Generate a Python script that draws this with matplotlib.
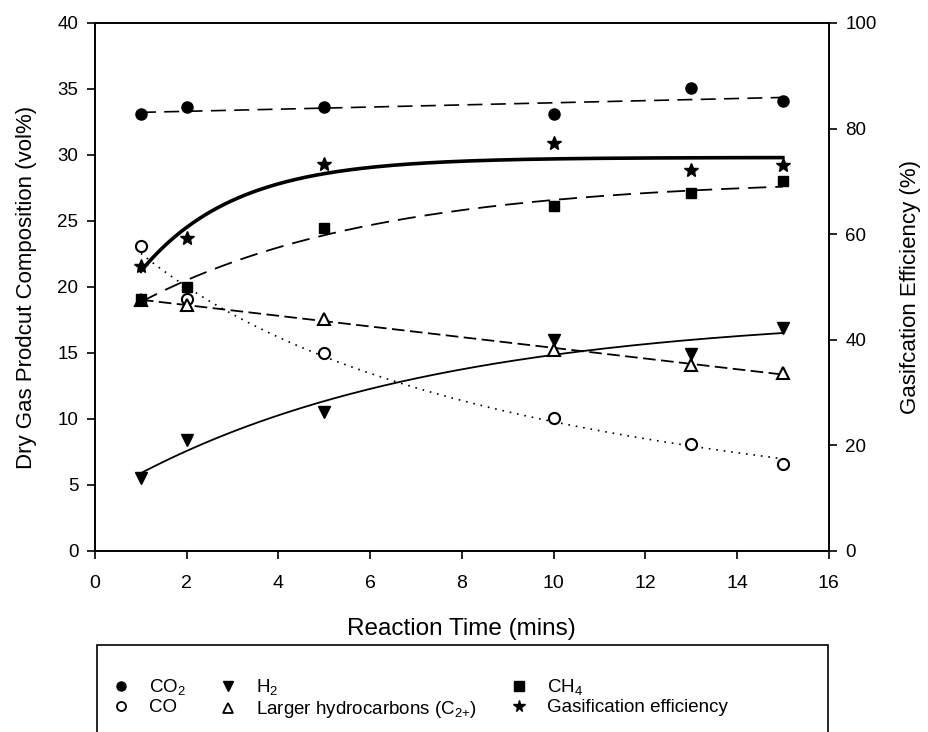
import numpy as np
import matplotlib
matplotlib.use("Agg")
import matplotlib.pyplot as plt
from matplotlib.lines import Line2D
from matplotlib.patches import Rectangle

plt.rcParams['font.family'] = ['Liberation Sans', 'DejaVu Sans']
plt.rcParams['mathtext.default'] = 'regular'

# reaction time (mins)
time = [1, 2, 5, 10, 13, 15]

# dry gas composition (vol%)
co2 = [33.1, 33.6, 33.6, 33.1, 35.1, 34.1]
co = [23.1, 19.1, 15.0, 10.1, 8.1, 6.6]
h2 = [5.5, 8.4, 10.5, 16.0, 14.9, 16.9]
c2plus = [19.0, 18.6, 17.6, 15.2, 14.1, 13.5]
ch4 = [19.1, 20.0, 24.5, 26.1, 27.1, 28.0]

# gasification efficiency (%), right axis
efficiency = [54.0, 59.2, 73.3, 77.3, 72.1, 73.1]


def fit_line(x, y):
    coef = np.polyfit(x, y, 1)
    return lambda t: np.polyval(coef, t)


def fit_curve(x, y, kind):
    # three-parameter regression, nonlinear parameter b found by grid search
    x = np.asarray(x, float)
    y = np.asarray(y, float)
    shapes = {
        'rise': lambda t, b: 1 - np.exp(-b * t),
        'hyperbolic': lambda t, b: b / (b + t),
    }
    shape = shapes[kind]
    best = None
    for b in np.linspace(0.005, 10, 4000):
        A = np.column_stack([np.ones_like(x), shape(x, b)])
        sol, *_ = np.linalg.lstsq(A, y, rcond=None)
        err = np.sum((A @ sol - y) ** 2)
        if best is None or err < best[0]:
            best = (err, b, sol)
    _, b, (y0, a) = best
    return lambda t: y0 + a * shape(t, b)


fig = plt.figure(figsize=(9.29, 7.32), dpi=100)
ax = fig.add_axes([0.1023, 0.2473, 0.7897, 0.7213])
ax2 = ax.twinx()

xs = np.linspace(min(time), max(time), 200)

ms = 8
ax.plot(xs, fit_line(time, co2)(xs), color='black', lw=1.2, dashes=(9, 5))
ax.plot(xs, fit_curve(time, co, 'hyperbolic')(xs), color='black', lw=1.2, linestyle=(0, (1, 3.5)))
ax.plot(xs, fit_curve(time, h2, 'rise')(xs), color='black', lw=1.3)
ax.plot(xs, fit_line(time, c2plus)(xs), color='black', lw=1.3, dashes=(7, 3))
ax.plot(xs, fit_curve(time, ch4, 'rise')(xs), color='black', lw=1.3, dashes=(10, 5))
ax2.plot(xs, fit_curve(time, efficiency, 'rise')(xs), color='black', lw=2.6)

ax.plot(time, co2, 'o', color='black', ms=ms, ls='none')
ax.plot(time, co, 'o', mfc='white', mec='black', mew=1.5, ms=ms, ls='none')
ax.plot(time, h2, 'v', color='black', ms=ms + 1, ls='none')
ax.plot(time, c2plus, '^', mfc='white', mec='black', mew=1.5, ms=ms + 1, ls='none')
ax.plot(time, ch4, 's', color='black', ms=ms - 0.5, ls='none')
ax2.plot(time, efficiency, '*', color='black', ms=ms + 2, ls='none')

ax.set_xlim(0, 16)
ax.set_ylim(0, 40)
ax2.set_ylim(0, 100)
ax.set_xticks(range(0, 17, 2))
ax.set_yticks(range(0, 41, 5))
ax2.set_yticks(range(0, 101, 20))

for a in (ax, ax2):
    a.tick_params(direction='out', length=6, width=1.2, colors='black', pad=6)
    a.tick_params(axis='y', labelsize=13.5)
    for s in a.spines.values():
        s.set_linewidth(1.2)
ax.tick_params(axis='x', labelsize=14, pad=11)

ax.set_xlabel('Reaction Time (mins)', fontsize=17.5, labelpad=19)
ax.set_ylabel('Dry Gas Prodcut Composition (vol%)', fontsize=16, labelpad=15)
ax2.set_ylabel('Gasifcation Efficiency (%)', fontsize=16, labelpad=17)

# legend frame (runs off the bottom of the figure, as in the original)
fig.patches.append(Rectangle((97 / 929, -0.05), (828 - 97) / 929, (0.05 + (732 - 645) / 732),
                             transform=fig.transFigure, fill=False, ec='black', lw=1.2))

handles = [
    Line2D([], [], marker='o', color='black', ls='none', ms=6.5),
    Line2D([], [], marker='o', mfc='white', mec='black', mew=1.3, ls='none', ms=6.5),
    Line2D([], [], marker='v', color='black', ls='none', ms=7.5),
    Line2D([], [], marker='^', mfc='white', mec='black', mew=1.3, ls='none', ms=7.5),
    Line2D([], [], marker='s', color='black', ls='none', ms=6.5),
    Line2D([], [], marker='*', color='black', ls='none', ms=8.5),
]
labels = ['CO$_2$', 'CO', 'H$_2$', 'Larger hydrocarbons (C$_{2{+}}$)', 'CH$_4$', 'Gasification efficiency']
fig.legend(handles, labels, ncol=3, loc='upper left', bbox_to_anchor=(100 / 929, 1 - 668 / 732),
           frameon=False, fontsize=13.5, handlelength=1.2, handletextpad=0.9,
           columnspacing=1.65, labelspacing=0.1, borderpad=0)

fig.savefig('out.png', dpi=100)
